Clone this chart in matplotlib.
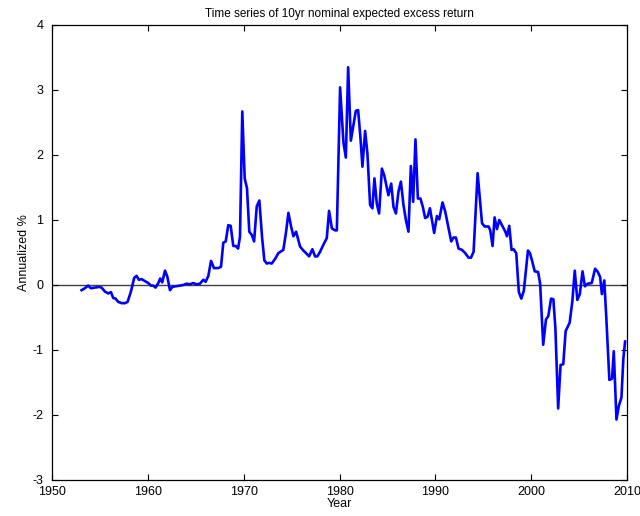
import matplotlib
matplotlib.use("Agg")
import matplotlib.pyplot as plt

# Time series (year, annualized %)
years = [
  1953.10, 1953.44, 1953.79, 1954.07, 1954.49, 1954.91, 1955.19, 1955.53, 1955.88, 1956.16,
  1956.40, 1956.65, 1956.92, 1957.28, 1957.62, 1957.90, 1958.25, 1958.59, 1958.84, 1959.08,
  1959.36, 1959.71, 1960.05, 1960.33, 1960.57, 1960.82, 1961.10, 1961.30, 1961.51, 1961.80,
  1962.04, 1962.32, 1962.56, 1962.91, 1963.36, 1963.71, 1964.06, 1964.41, 1964.75, 1965.10,
  1965.45, 1965.79, 1966.04, 1966.32, 1966.60, 1966.91, 1967.36, 1967.64, 1967.88, 1968.13,
  1968.40, 1968.65, 1968.92, 1969.18, 1969.42, 1969.62, 1969.86, 1970.11, 1970.35, 1970.59,
  1970.85, 1971.09, 1971.37, 1971.64, 1971.92, 1972.16, 1972.41, 1972.65, 1972.93, 1973.28,
  1973.62, 1974.14, 1974.43, 1974.67, 1974.95, 1975.19, 1975.47, 1975.89, 1976.23, 1976.51,
  1976.83, 1977.17, 1977.45, 1977.69, 1977.97, 1978.32, 1978.67, 1978.91, 1979.20, 1979.54,
  1979.72, 1980.06, 1980.41, 1980.66, 1980.90, 1981.18, 1981.45, 1981.70, 1981.94, 1982.18,
  1982.39, 1982.67, 1982.91, 1983.19, 1983.43, 1983.64, 1983.89, 1984.13, 1984.42, 1984.66,
  1984.94, 1985.10, 1985.39, 1985.63, 1985.88, 1986.15, 1986.40, 1986.67, 1986.92, 1987.19,
  1987.44, 1987.68, 1987.92, 1988.17, 1988.44, 1988.69, 1988.93, 1989.18, 1989.43, 1989.87,
  1990.16, 1990.40, 1990.74, 1991.02, 1991.37, 1991.65, 1991.89, 1992.14, 1992.41, 1992.77,
  1993.11, 1993.46, 1993.71, 1993.98, 1994.40, 1994.61, 1994.86, 1995.13, 1995.54, 1995.72,
  1995.96, 1996.17, 1996.42, 1996.66, 1996.94, 1997.29, 1997.46, 1997.70, 1997.94, 1998.15,
  1998.43, 1998.70, 1998.96, 1999.22, 1999.65, 1999.86, 2000.10, 2000.36, 2000.71, 2000.92,
  2001.24, 2001.53, 2001.77, 2002.06, 2002.30, 2002.51, 2002.80, 2003.05, 2003.33, 2003.58,
  2004.00, 2004.28, 2004.53, 2004.80, 2005.06, 2005.34, 2005.59, 2005.88, 2006.30, 2006.65,
  2006.94, 2007.18, 2007.36, 2007.61, 2007.82, 2008.14, 2008.42, 2008.60, 2008.88, 2009.13,
  2009.40, 2009.60, 2009.78,
]
excess_ret = [
  -0.08, -0.05, -0.01, -0.05, -0.04, -0.03, -0.04, -0.10, -0.13, -0.11,
  -0.20, -0.21, -0.26, -0.28, -0.28, -0.26, -0.10, 0.11, 0.14, 0.08,
  0.09, 0.06, 0.03, -0.01, -0.01, -0.04, 0.03, 0.10, 0.04, 0.22,
  0.13, -0.08, -0.03, -0.02, -0.01, 0.00, 0.02, 0.01, 0.03, 0.01,
  0.02, 0.08, 0.05, 0.14, 0.37, 0.26, 0.26, 0.28, 0.65, 0.67,
  0.92, 0.91, 0.60, 0.60, 0.56, 0.74, 2.67, 1.64, 1.49, 0.82,
  0.77, 0.67, 1.21, 1.30, 0.74, 0.38, 0.33, 0.34, 0.33, 0.40,
  0.49, 0.54, 0.82, 1.11, 0.90, 0.75, 0.82, 0.59, 0.53, 0.49,
  0.44, 0.55, 0.44, 0.44, 0.51, 0.62, 0.72, 1.14, 0.87, 0.84,
  0.84, 3.04, 2.19, 1.96, 3.35, 2.22, 2.46, 2.68, 2.69, 2.27,
  1.82, 2.37, 2.02, 1.23, 1.18, 1.64, 1.25, 1.10, 1.79, 1.69,
  1.49, 1.38, 1.56, 1.20, 1.10, 1.44, 1.59, 1.23, 1.00, 0.82,
  1.83, 1.28, 2.24, 1.33, 1.33, 1.20, 1.03, 1.05, 1.18, 0.80,
  1.06, 1.01, 1.27, 1.13, 0.87, 0.67, 0.73, 0.73, 0.56, 0.54,
  0.49, 0.42, 0.42, 0.51, 1.72, 1.36, 0.95, 0.90, 0.90, 0.84,
  0.60, 1.04, 0.86, 1.00, 0.92, 0.82, 0.75, 0.91, 0.54, 0.55,
  0.49, -0.11, -0.21, -0.09, 0.53, 0.49, 0.36, 0.21, 0.20, 0.02,
  -0.92, -0.53, -0.48, -0.21, -0.22, -0.66, -1.90, -1.23, -1.22, -0.71,
  -0.58, -0.25, 0.22, -0.23, -0.14, 0.21, -0.02, 0.02, 0.03, 0.25,
  0.20, 0.12, -0.14, 0.07, -0.50, -1.46, -1.44, -1.02, -2.07, -1.86,
  -1.73, -1.13, -0.87,
]
x_ticks = [1950, 1960, 1970, 1980, 1990, 2000, 2010]
y_ticks = [-3, -2, -1, 0, 1, 2, 3, 4]

plt.rcParams["font.family"] = ["Liberation Sans", "DejaVu Sans"]
plt.rcParams["xtick.direction"] = "in"
plt.rcParams["ytick.direction"] = "in"
plt.rcParams["axes.unicode_minus"] = False   # 目盛りはハイフンのマイナス
plt.rcParams["font.size"] = 9

fig = plt.figure(figsize=(6.4, 5.16), dpi=100)
ax = fig.add_axes([0.081, 0.0698, 0.899, 0.8818])

ax.axhline(0, color="#404040", linewidth=1.0, zorder=1)
ax.plot(years, excess_ret, color="#0000ff", linewidth=1.9, zorder=2)

ax.set_xlim(1950, 2010)
ax.set_ylim(-3, 4)
ax.set_xticks(x_ticks)
ax.set_yticks(y_ticks)
ax.tick_params(top=True, right=True, length=4.5, width=0.8, labelsize=9)
ax.tick_params(axis="x", pad=4)
ax.tick_params(axis="y", pad=6)
for sp in ax.spines.values():
  sp.set_linewidth(0.9)

ax.set_title("Time series of 10yr nominal expected excess return", fontsize=8.5, pad=6)
ax.set_xlabel("Year", fontsize=9, labelpad=0)
ax.set_ylabel("Annualized %", fontsize=9, labelpad=2)

fig.savefig("out.png", dpi=100)
